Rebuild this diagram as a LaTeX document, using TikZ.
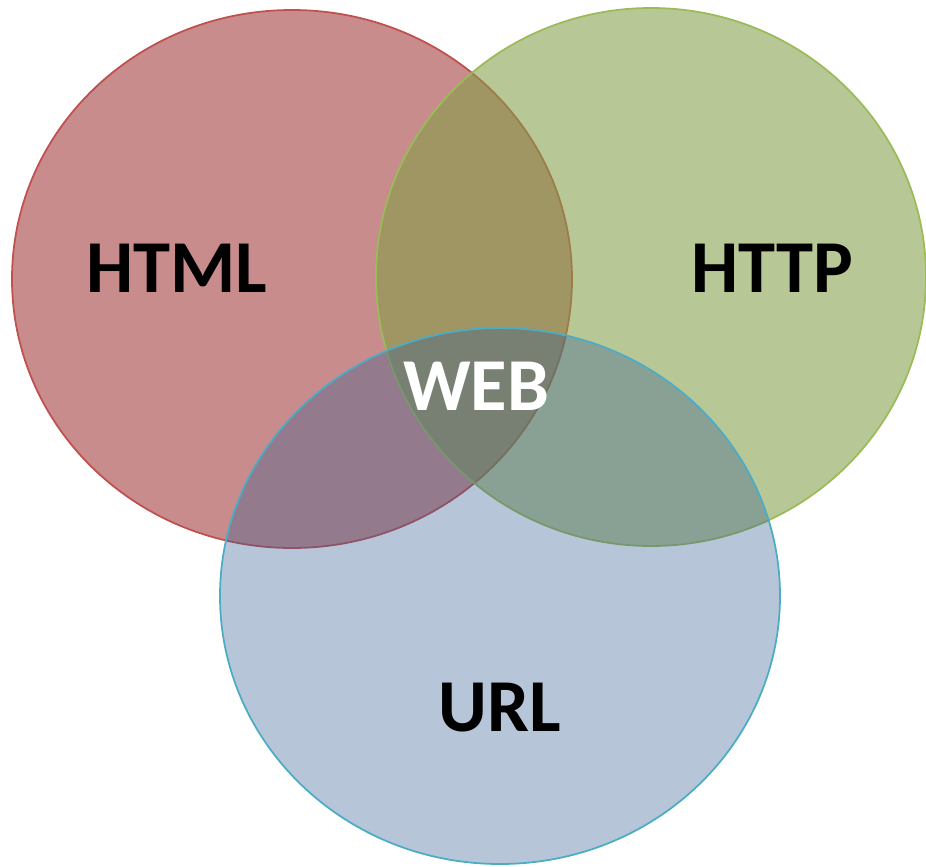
\documentclass[tikz,border=0pt]{standalone}
\usepackage{fontspec}
\setmainfont{Carlito}
\usetikzlibrary{positioning}

\definecolor{htmlred}{RGB}{163,63,63}
\definecolor{htmledge}{RGB}{192,80,77}
\definecolor{httpgreen}{RGB}{129,158,71}
\definecolor{httpedge}{RGB}{155,187,89}
\definecolor{urlblue}{RGB}{49,89,143}
\definecolor{urledge}{RGB}{75,172,198}

\begin{document}
\begin{tikzpicture}[x=0.02cm, y=-0.02cm, label/.style={font=\fontsize{42.5}{50}\selectfont\bfseries, inner sep=0pt}, set/.style={line width=1pt}]
        \useasboundingbox (0,0) rectangle (926,866);

        \draw[set, draw=htmledge, fill=htmlred, fill opacity=0.6] (292,279) ellipse [x radius=280, y radius=269];
        \draw[set, draw=httpedge, fill=httpgreen, fill opacity=0.57] (651,277) ellipse [x radius=275, y radius=269];
        \draw[set, draw=urledge, fill=urlblue, fill opacity=0.35] (500,596) ellipse [x radius=280, y radius=268];

        \node[label] (html) at (177,268) {HTML};
        \node[label] (http) at (772,268) {HTTP};
        \node[label] (url) at (500,708) {URL};
        \node[label, text=white] (web) at (476,386) {WEB};

    \end{tikzpicture}
\end{document}
